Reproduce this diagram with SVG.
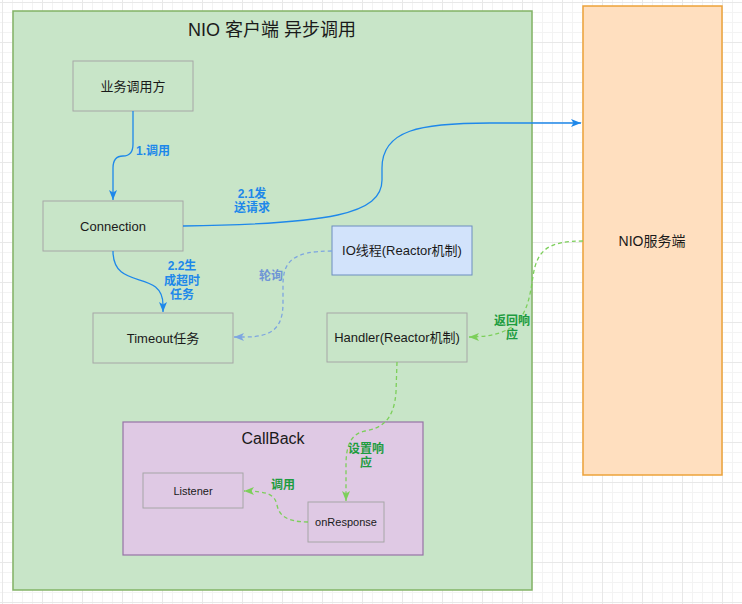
<svg xmlns="http://www.w3.org/2000/svg" width="742" height="604" viewBox="0 0 742 604">
<style>
text{font-family:"Liberation Sans","Noto Sans CJK SC",sans-serif;fill:#1a1a1a;text-anchor:middle}
.box{fill:none;stroke:#a6a6a6;stroke-width:1}
.n{font-size:13px}
.s{font-size:11px}
.lb{font-size:12px;font-weight:bold;fill:#1e88ea}
.lg{font-size:12px;font-weight:bold;fill:#1e9c40}
.lp{font-size:12px;font-weight:bold;fill:#6f95d6}
.eb{fill:none;stroke:#1e88ea;stroke-width:1.3}
.eg{fill:none;stroke:#7ccf5a;stroke-width:1.3;stroke-dasharray:4 3}
.ep{fill:none;stroke:#7ea6e0;stroke-width:1.3;stroke-dasharray:4 3}
</style>
<defs>
<pattern id="grid" x="2" y="2" width="40" height="40" patternUnits="userSpaceOnUse">
<rect x="0" y="0" width="40" height="40" fill="#ffffff"/>
<g fill="#f3f3f3">
<rect x="10" y="0" width="1" height="40"/><rect x="20" y="0" width="1" height="40"/><rect x="30" y="0" width="1" height="40"/>
<rect x="0" y="10" width="40" height="1"/><rect x="0" y="20" width="40" height="1"/><rect x="0" y="30" width="40" height="1"/>
</g>
<g fill="#e8e8e8"><rect x="0" y="0" width="1" height="40"/><rect x="0" y="0" width="40" height="1"/></g>
</pattern>
<marker id="ab" markerUnits="userSpaceOnUse" markerWidth="12" markerHeight="10" refX="10" refY="4" orient="auto" viewBox="0 0 12 8"><path d="M0,0 L10,4 L0,8 L2.5,4 Z" fill="#1e88ea"/></marker>
<marker id="ag" markerUnits="userSpaceOnUse" markerWidth="12" markerHeight="10" refX="10" refY="4" orient="auto" viewBox="0 0 12 8"><path d="M0,0 L10,4 L0,8 L2.5,4 Z" fill="#7ccf5a"/></marker>
<marker id="ap" markerUnits="userSpaceOnUse" markerWidth="12" markerHeight="10" refX="10" refY="4" orient="auto" viewBox="0 0 12 8"><path d="M0,0 L10,4 L0,8 L2.5,4 Z" fill="#7ea6e0"/></marker>
</defs>
<rect x="0" y="0" width="742" height="604" fill="url(#grid)"/>

<g id="client">
<rect x="13" y="11" width="519" height="579" fill="#c8e5c8" stroke="#82b366" stroke-width="1.5"/>
<text x="272" y="36" style="font-size:18px">NIO 客户端 异步调用</text>
</g>
<g id="server">
<rect x="583" y="6" width="139" height="469" fill="#ffdfbf" stroke="#eda33a" stroke-width="1.5"/>
<text x="652" y="246" style="font-size:14px">NIO服务端</text>
</g>
<g id="caller">
<rect class="box" x="73" y="61" width="120" height="50"/>
<text class="n" x="133" y="90.5">业务调用方</text>
</g>
<g id="connection">
<rect class="box" x="43" y="201" width="140" height="50"/>
<text class="n" x="113" y="230.5">Connection</text>
</g>
<g id="timeout">
<rect class="box" x="93" y="313" width="140" height="50"/>
<text class="n" x="163" y="342.5">Timeout任务</text>
</g>
<g id="io">
<rect x="332" y="226" width="140" height="49" fill="#d2e3fb" stroke="#6c8ebf" stroke-width="1"/>
<text class="n" x="402" y="255">IO线程(Reactor机制)</text>
</g>
<g id="handler">
<rect class="box" x="327" y="313" width="140" height="49"/>
<text class="n" x="397" y="342">Handler(Reactor机制)</text>
</g>
<g id="callback">
<rect x="123" y="422" width="300" height="133" fill="#dfc9e4" stroke="#9673a6" stroke-width="1.2"/>
<text x="273" y="444" style="font-size:16px">CallBack</text>
</g>
<g id="listener">
<rect class="box" x="143" y="473" width="100" height="35"/>
<text class="s" x="193" y="494.5">Listener</text>
</g>
<g id="onresponse">
<rect class="box" x="308" y="502" width="76" height="40"/>
<text class="s" x="346" y="526">onResponse</text>
</g>

<g id="connectors">
<path class="eb" d="M133,111 V144 Q133,156 123,156 Q113,156 113,168 V200" marker-end="url(#ab)"/>
<text class="lb" x="153" y="155">1.调用</text>
<path class="eb" d="M183,226 C330,224 382,214 382,180 L382,168 C382,130 420,123 490,123 L581,123" marker-end="url(#ab)"/>
<text class="lb" x="252" y="198">2.1发</text>
<text class="lb" x="252" y="212">送请求</text>
<path class="eb" d="M113,251 C113,292 163,268 163,305 L163,312" marker-end="url(#ab)"/>
<text class="lb" x="182" y="270">2.2生</text>
<text class="lb" x="182" y="285">成超时</text>
<text class="lb" x="182" y="299">任务</text>
<path class="ep" d="M332,251 C292,251 283,262 283,285 L283,303 C283,328 272,337 245,337 L234,337" marker-end="url(#ap)"/>
<text class="lp" x="271" y="280">轮询</text>
<path class="eg" d="M583,241 C548,241 537,250 533,276 C528,312 522,337 469,337" marker-end="url(#ag)"/>
<text class="lg" x="512" y="325">返回响</text>
<text class="lg" x="512" y="339">应</text>
<path class="eg" d="M397,362 L396,392 C394,420 382,428 365,431 C351,434 346,445 346,465 L346,501" marker-end="url(#ag)"/>
<text class="lg" x="366" y="453">设置响</text>
<text class="lg" x="366" y="467">应</text>
<path class="eg" d="M308,522 C286,522 279,515 277,505 C275,495 268,491 244,491" marker-end="url(#ag)"/>
<text class="lg" x="283" y="489">调用</text>
</g>
</svg>
